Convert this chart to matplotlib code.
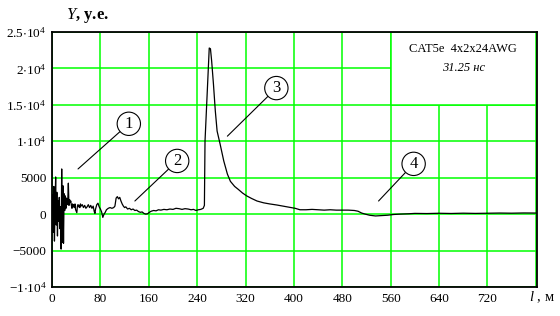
import matplotlib
matplotlib.use("Agg")
import matplotlib.pyplot as plt
from matplotlib.patches import Rectangle

# ── Data ─────────────────────────────────────────────────────────────────────
dist_m = [0, 1, 2, 3, 4, 5, 6, 7, 8, 9, 10, 11, 12, 13, 14, 15, 16, 17, 18, 19,
          20, 21, 22, 23, 24, 25, 26, 27, 28, 29, 30, 31, 32, 33, 34, 35, 36, 37,
          38, 39, 40, 41, 42, 43, 44, 45, 46, 47, 48, 50, 52, 54, 56, 58, 60, 62,
          64, 66, 68, 70, 71, 72, 74, 76, 78, 80, 82, 84, 86, 88, 90, 93, 96, 99,
          102, 104, 106, 108, 110, 112, 114, 116, 118, 120, 122, 125, 128, 131,
          134, 137, 140, 143, 146, 149, 152, 155, 158, 161, 164, 168, 172, 176,
          180, 185, 190, 195, 200, 205, 210, 215, 220, 225, 230, 234, 238, 242,
          246, 250, 252, 253, 256, 258.5, 260, 262, 264, 267, 270, 273, 278, 284,
          290, 295, 302, 308, 315, 322, 330, 339, 350, 360, 372, 385, 395, 402,
          410, 420, 430, 440, 450, 460, 470, 480, 490, 500, 506, 512, 518, 525,
          535, 545, 555, 565, 575, 590, 600, 620, 640, 660, 680, 700, 720, 740,
          760, 780, 800]
signal = [500, 2700, -2500, 3800, -3700, 1200, 5100, -1500, 3000, -3000, 1800,
          -1000, 2300, -2000, 1000, -4800, 6200, -3900, 3900, -4000, 2800, 500,
          2500, 800, 2200, 1300, 1800, 4250, 1200, 2000, 1600, 1800, 1200, 800,
          1400, 1000, 1300, 900, 1400, 600, 400, 200, 1100, 1300, 1000, 1200, 900,
          1400, 1100, 1300, 900, 1200, 800, 1000, 1300, 900, 1200, 800, 1100, 300,
          100, 700, 1300, 1500, 1000, 700, 300, -450, 0, 250, 600, 800, 900, 800,
          900, 1100, 2200, 2400, 2100, 2300, 1800, 1400, 1100, 900, 1000, 700, 800,
          600, 700, 500, 550, 350, 250, 300, 100, 0, 50, 250, 400, 500, 450, 600,
          550, 650, 600, 700, 650, 800, 750, 650, 750, 700, 600, 650, 500, 600,
          650, 800, 1200, 10000, 15500, 20100, 22800, 22700, 21000, 17800, 14200,
          11400, 9600, 7300, 5500, 4500, 3800, 3400, 2900, 2500, 2150, 1800, 1550,
          1400, 1250, 1050, 900, 800, 600, 600, 650, 600, 550, 600, 550, 550, 550,
          500, 400, 150, 0, -150, -250, -200, -150, -50, 0, 50, 100, 80, 120, 90,
          130, 100, 120, 150, 130, 160, 150]

x_ticks = [0, 80, 160, 240, 320, 400, 480, 560, 640, 720, 800]
x_labels = ["0", "80", "160", "240", "320", "400", "480", "560", "640", "720", ""]
y_ticks = [-10000, -5000, 0, 5000, 10000, 15000, 20000, 25000]
y_labels = [r"$\mathregular{-1{\cdot}10^4}$", "\u22125000", "0", "5000",
            r"$\mathregular{1{\cdot}10^4}$", r"$\mathregular{1.5{\cdot}10^4}$",
            r"$\mathregular{2{\cdot}10^4}$", r"$\mathregular{2.5{\cdot}10^4}$"]

# callouts: label, circle centre, leader end
callouts = [("1", (127, 12400), (43, 6200)),
            ("2", (207, 7300), (137, 1800)),
            ("3", (371, 17300), (290, 10700)),
            ("4", (598, 6900), (540, 1800))]

GREEN = "#00ff00"

plt.rcParams["font.family"] = ["Liberation Serif", "DejaVu Serif"]
plt.rcParams["mathtext.fontset"] = "custom"
plt.rcParams["mathtext.rm"] = "Liberation Serif"
plt.rcParams["mathtext.it"] = "Liberation Serif:italic"

fig = plt.figure(figsize=(5.6, 3.16), dpi=100)
ax = fig.add_axes([0.0929, 0.0918, 0.866, 0.807])

ax.set_xlim(0, 802)
ax.set_ylim(-10000, 25000)
ax.set_xticks(x_ticks)
ax.set_xticklabels(x_labels)
ax.set_yticks(y_ticks)
ax.set_yticklabels(y_labels)
ax.tick_params(length=0, labelsize=9.5, pad=4)
ax.grid(True, color=GREEN, linewidth=1.1, zorder=0)
ax.set_axisbelow(True)
for sp in ax.spines.values():
    sp.set_linewidth(1.3)

# white box for the caption (upper right)
ax.add_patch(Rectangle((560, 15000), 240, 10000, facecolor="white",
                       edgecolor=GREEN, linewidth=1.1, zorder=1))
ax.text(680, 22600, "CAT5e  4x2x24AWG", ha="center", va="center", fontsize=9, zorder=3)
ax.text(680, 20100, "31.25 нс", ha="center", va="center", fontsize=9,
        style="italic", zorder=3)

ax.plot(dist_m, signal, color="black", linewidth=0.9, zorder=2)

for lab, centre, end in callouts:
    ax.annotate(lab, xy=end, xytext=centre, ha="center", va="center",
                fontsize=12, zorder=4,
                bbox=dict(boxstyle="circle,pad=0.22", fc="none", ec="black", lw=0.8),
                arrowprops=dict(arrowstyle="-", color="black", lw=0.8,
                                shrinkA=0, shrinkB=0))

fig.text(0.118, 0.952, r"$\mathit{Y}$, у.е.", fontsize=12, ha="left", va="center",
         fontweight="bold")
fig.text(0.945, 0.058, r"$\mathit{l}$ , м", fontsize=10.5, ha="left", va="center")

fig.savefig("out.png", dpi=100)
